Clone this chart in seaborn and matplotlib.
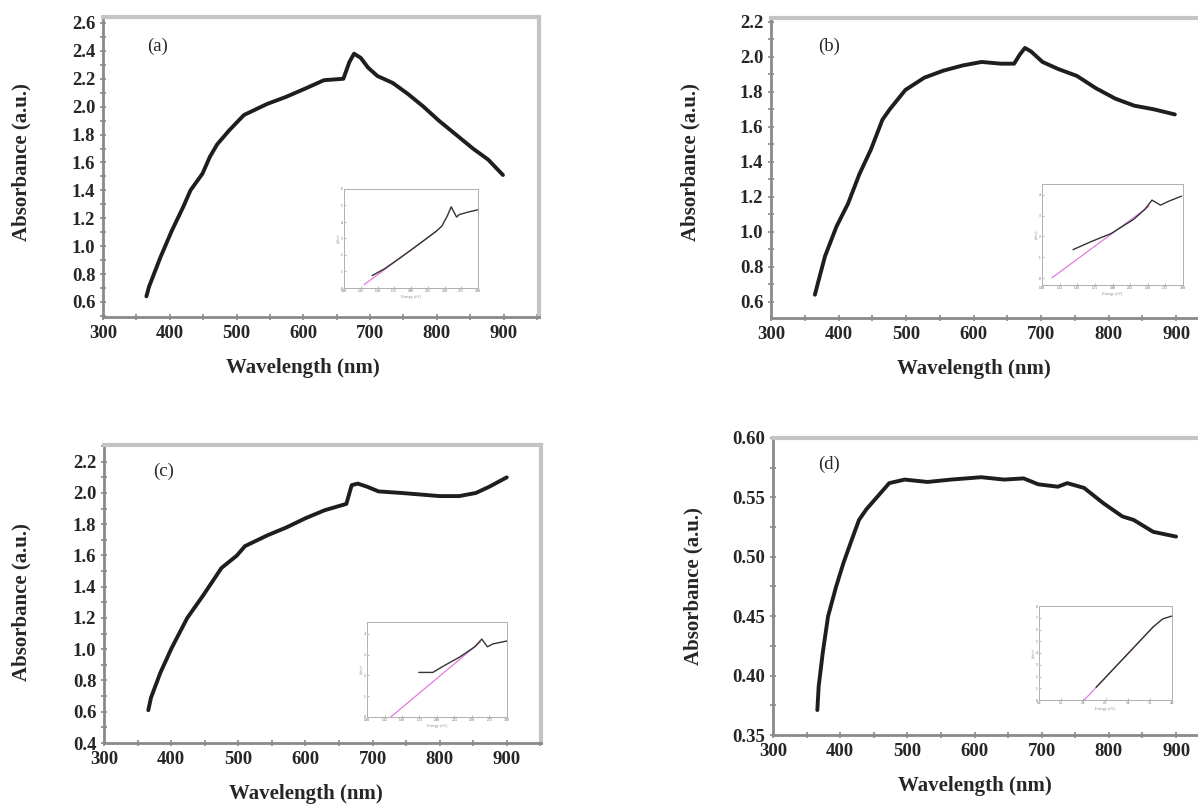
import matplotlib
matplotlib.use("Agg")
import matplotlib.pyplot as plt
from matplotlib.ticker import MultipleLocator, FormatStrFormatter
import seaborn as sns

sns.set_style("white")
plt.rcParams["font.family"] = ["Liberation Serif", "DejaVu Serif"]
plt.rcParams["font.weight"] = "bold"

# main spectra
wl_a = [365, 369, 386, 403, 420, 431, 449, 460, 471, 489, 511, 546, 574, 603, 631, 660,
        669, 676, 686, 697, 711, 734, 757, 780, 803, 826, 854, 877, 899]
abs_a = [0.64, 0.71, 0.92, 1.11, 1.28, 1.40, 1.52, 1.64, 1.73, 1.83, 1.94, 2.02, 2.07, 2.13, 2.19, 2.20,
         2.32, 2.38, 2.35, 2.28, 2.22, 2.17, 2.09, 2.00, 1.90, 1.81, 1.70, 1.62, 1.51]

wl_b = [365, 369, 380, 397, 414, 431, 448, 465, 476, 499, 527, 555, 584, 612, 640, 660,
        668, 676, 685, 702, 725, 753, 781, 810, 838, 866, 898]
abs_b = [0.64, 0.70, 0.86, 1.03, 1.16, 1.33, 1.47, 1.64, 1.70, 1.81, 1.88, 1.92, 1.95, 1.97, 1.96, 1.96,
         2.01, 2.05, 2.03, 1.97, 1.93, 1.89, 1.82, 1.76, 1.72, 1.70, 1.67]

wl_c = [366, 370, 384, 401, 424, 447, 475, 498, 510, 544, 572, 601, 629, 661,
        669, 678, 692, 709, 743, 772, 800, 829, 854, 874, 900]
abs_c = [0.61, 0.69, 0.85, 1.01, 1.20, 1.34, 1.52, 1.60, 1.66, 1.73, 1.78, 1.84, 1.89, 1.93,
         2.05, 2.06, 2.04, 2.01, 2.00, 1.99, 1.98, 1.98, 2.00, 2.04, 2.10]

wl_d = [366, 368, 374, 382, 394, 405, 417, 428, 439, 456, 473, 496, 530, 565, 610, 644,
        673, 695, 724, 738, 763, 792, 820, 837, 866, 900]
abs_d = [0.371, 0.391, 0.419, 0.450, 0.475, 0.495, 0.514, 0.531, 0.540, 0.551, 0.562, 0.565, 0.563,
         0.565, 0.567, 0.565, 0.566, 0.561, 0.559, 0.562, 0.558, 0.545, 0.534, 0.531, 0.521, 0.517]

# inset Tauc plots
ins_a_x = [1.42, 1.6, 1.8, 2.0, 2.2, 2.38, 2.46, 2.54, 2.6, 2.68, 2.72, 2.85, 3.0]
ins_a_y = [0.75, 1.15, 1.72, 2.3, 2.9, 3.45, 3.75, 4.35, 4.92, 4.3, 4.45, 4.6, 4.74]
fit_a_x = [1.30, 2.38]
fit_a_y = [0.2, 3.45]

ins_b_x = [1.44, 1.70, 1.98, 2.30, 2.46, 2.56, 2.68, 2.80, 2.98]
ins_b_y = [1.37, 1.76, 2.14, 2.82, 3.30, 3.74, 3.50, 3.69, 3.93]
fit_b_x = [1.14, 2.52]
fit_b_y = [0.02, 3.45]

ins_c_x = [1.74, 1.94, 2.10, 2.32, 2.54, 2.64, 2.72, 2.80, 3.0]
ins_c_y = [2.14, 2.14, 2.46, 2.87, 3.37, 3.74, 3.37, 3.51, 3.65]
fit_c_x = [1.34, 2.62]
fit_c_y = [0.0, 3.6]

ins_d_x = [2.29, 2.65, 3.0, 3.3, 3.58, 3.79, 4.0]
ins_d_y = [1.08, 2.52, 3.92, 5.12, 6.24, 6.9, 7.15]
fit_d_x = [2.02, 3.58]
fit_d_y = [0.0, 6.24]

W, H = 1198, 805
fig = plt.figure(figsize=(W / 100, H / 100), dpi=100)


def px_box(left, top, right, bottom):
    return [left / W, 1 - bottom / H, (right - left) / W, (bottom - top) / H]


panels = [
    dict(wl=wl_a, ab=abs_a, tag="(a)", box=(103, 17, 539, 317), xlim=(300, 953),
         ylim=(0.492, 2.643), ymaj=0.2, ymin=0.1, fmt="%.1f", ytick_lo=0.6, ytick_hi=2.6,
         tagpos=(381, 2.43), pad=29,
         ins=(ins_a_x, ins_a_y, fit_a_x, fit_a_y), inbox=(344, 189, 478, 288),
         inxlim=(1, 3), inylim=(0, 6), inystep=1, inxstep=0.25),
    dict(wl=wl_b, ab=abs_b, tag="(b)", box=(771, 18, 1212, 318), xlim=(300, 953),
         ylim=(0.507, 2.221), ymaj=0.2, ymin=0.1, fmt="%.1f", ytick_lo=0.6, ytick_hi=2.2,
         tagpos=(386, 2.06), pad=28,
         ins=(ins_b_x, ins_b_y, fit_b_x, fit_b_y), inbox=(1042, 184, 1183, 285),
         inxlim=(1, 3), inylim=(-0.32, 4.51), inystep=1, inxstep=0.25),
    dict(wl=wl_c, ab=abs_c, tag="(c)", box=(104, 445, 541, 743), xlim=(300, 951),
         ylim=(0.4, 2.307), ymaj=0.2, ymin=0.1, fmt="%.1f", ytick_lo=0.4, ytick_hi=2.2,
         tagpos=(389, 2.14), pad=30,
         ins=(ins_c_x, ins_c_y, fit_c_x, fit_c_y), inbox=(367, 622, 507, 717),
         inxlim=(1, 3), inylim=(0, 4.56), inystep=1, inxstep=0.25),
    dict(wl=wl_d, ab=abs_d, tag="(d)", box=(773, 438, 1211, 735), xlim=(300, 952),
         ylim=(0.35, 0.60), ymaj=0.05, ymin=0.025, fmt="%.2f", ytick_lo=0.35, ytick_hi=0.60,
         tagpos=(384, 0.578), pad=21,
         ins=(ins_d_x, ins_d_y, fit_d_x, fit_d_y), inbox=(1039, 606, 1172, 700),
         inxlim=(1, 4), inylim=(0, 8), inystep=1, inxstep=0.5),
]

for p in panels:
    ax = fig.add_axes(px_box(*p["box"]))
    sns.lineplot(x=p["wl"], y=p["ab"], ax=ax, color="#1e1e1e", lw=2.8,
                 estimator=None, sort=False)
    ax.set_xlim(*p["xlim"])
    ax.set_xticks([300, 400, 500, 600, 700, 800, 900])
    ax.xaxis.set_minor_locator(MultipleLocator(50))
    ax.yaxis.set_major_locator(MultipleLocator(p["ymaj"]))
    ax.yaxis.set_minor_locator(MultipleLocator(p["ymin"]))
    ax.yaxis.set_major_formatter(FormatStrFormatter(p["fmt"]))
    ax.set_ylim(*p["ylim"])
    ax.tick_params(which="both", direction="inout", color="#8a8a8a", labelsize=13.5,
                   length=5, width=1.2, pad=3, bottom=True, left=True)
    ax.tick_params(which="minor", length=4)
    for s in ["left", "bottom"]:
        ax.spines[s].set_color("#8a8a8a")
        ax.spines[s].set_linewidth(2)
    for s in ["top", "right"]:
        ax.spines[s].set_color("#c4c4c4")
        ax.spines[s].set_linewidth(3)

    ax.set_xlabel("Wavelength (nm)", fontsize=15, fontweight="bold", labelpad=12)
    ax.set_ylabel("Absorbance (a.u.)", fontsize=15, fontweight="bold", labelpad=p["pad"])
    x0, x1 = p["xlim"]
    y0, y1 = p["ylim"]
    ax.xaxis.label.set_x((600 - x0) / (x1 - x0))
    ax.yaxis.label.set_y(((p["ytick_lo"] + p["ytick_hi"]) / 2 - y0) / (y1 - y0))
    ax.text(p["tagpos"][0], p["tagpos"][1], p["tag"], fontsize=13.5, fontweight="normal",
            ha="center", va="center")

    # inset
    ix, iy, fx, fy = p["ins"]
    ia = fig.add_axes(px_box(*p["inbox"]))
    sns.lineplot(x=fx, y=fy, ax=ia, color="#e27be2", lw=0.9, estimator=None, sort=False)
    sns.lineplot(x=ix, y=iy, ax=ia, color="#333333", lw=1.0, estimator=None, sort=False)
    ia.set_xlim(*p["inxlim"])
    ia.xaxis.set_major_locator(MultipleLocator(p["inxstep"]))
    ia.yaxis.set_major_locator(MultipleLocator(p["inystep"]))
    ia.set_ylim(*p["inylim"])
    ia.tick_params(direction="in", length=1.5, width=0.5, color="#999999",
                   labelsize=2.5, labelcolor="#888888", pad=1, bottom=True, left=True)
    for s in ia.spines.values():
        s.set_color("#b0b0b0")
        s.set_linewidth(0.7)
    ia.set_xlabel("Energy (eV)", fontsize=3, fontweight="normal", color="#888888", labelpad=1)
    ia.set_ylabel("(αhν)²", fontsize=3, fontweight="normal", color="#888888", labelpad=1)

fig.savefig("out.png", dpi=100)
